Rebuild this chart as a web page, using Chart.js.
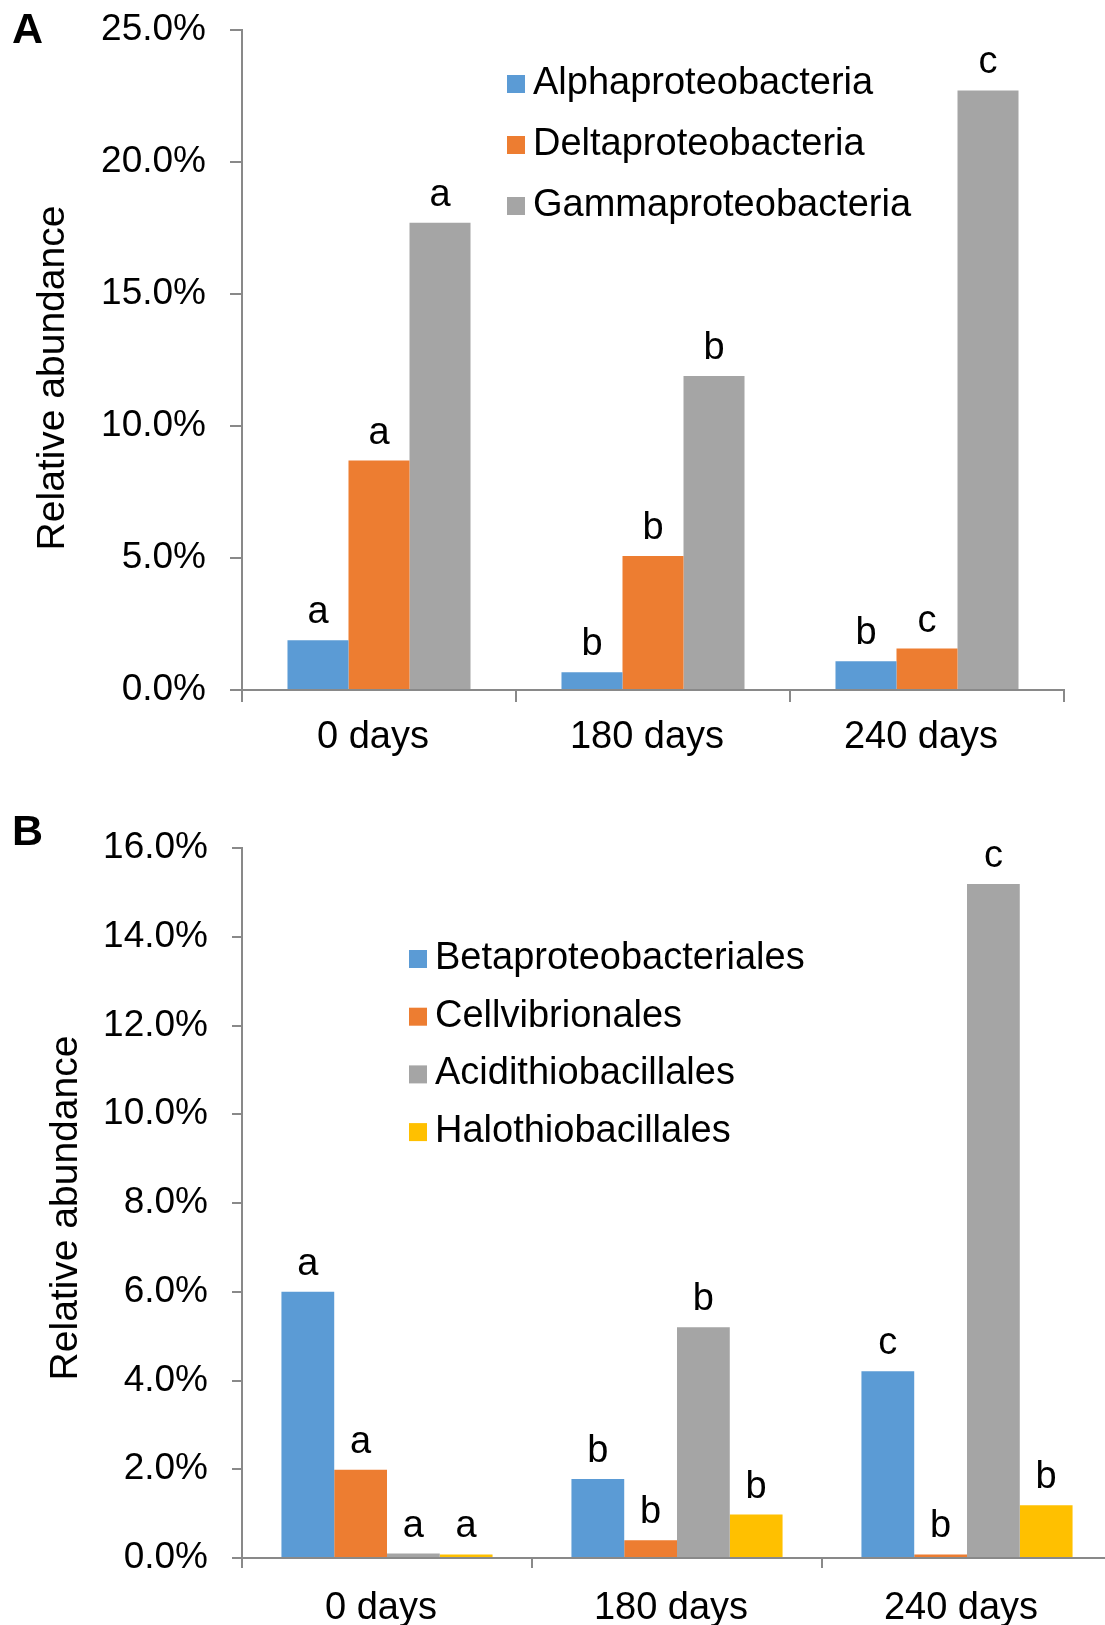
<!DOCTYPE html>
<html>
<head>
<meta charset="utf-8">
<script src="https://cdn.jsdelivr.net/npm/chart.js@4/dist/chart.umd.min.js"></script>
<style>
  html, body { margin: 0; padding: 0; background: #fff; }
  body { width: 1105px; height: 1625px; overflow: hidden; position: relative; }
  canvas { position: absolute; left: 0; }
  #chartA { top: 0; }
  #chartB { top: 790px; }
</style>
</head>
<body>
<canvas id="chartA" width="1105" height="790"></canvas>
<canvas id="chartB" width="1130" height="835"></canvas>
<script>
const days = ['0 days', '180 days', '240 days'];

// panel A - classes
const classNames = ['Alphaproteobacteria', 'Deltaproteobacteria', 'Gammaproteobacteria'];
const alphaValues = [1.88, 0.67, 1.09];
const deltaValues = [8.69, 5.08, 1.57];
const gammaValues = [17.70, 11.89, 22.71];
const alphaLetters = ['a', 'b', 'b'];
const deltaLetters = ['a', 'b', 'c'];
const gammaLetters = ['a', 'b', 'c'];
const yTicksA = { min: 0, max: 25, step: 5 };

// panel B - orders
const orderNames = ['Betaproteobacteriales', 'Cellvibrionales', 'Acidithiobacillales', 'Halothiobacillales'];
const betaValues = [6.00, 1.78, 4.21];
const cellValues = [1.99, 0.40, 0.08];
const acidValues = [0.10, 5.20, 15.19];
const haloValues = [0.08, 0.98, 1.19];
const betaLetters = ['a', 'b', 'c'];
const cellLetters = ['a', 'b', 'b'];
const acidLetters = ['a', 'b', 'c'];
const haloLetters = ['a', 'b', 'b'];
const yTicksB = { min: 0, max: 16, step: 2 };

const colors = ['#5B9BD5', '#ED7D31', '#A5A5A5', '#FFC000'];
const FONT = '"Liberation Sans", Arial, sans-serif';
const axisColor = '#898989';

Chart.defaults.font.family = FONT;
Chart.defaults.color = '#000';

// letters above bars
function lettersPlugin(letterSets) {
  return {
    id: 'letters',
    afterDatasetsDraw(chart) {
      const ctx = chart.ctx;
      ctx.save();
      ctx.font = '38px ' + FONT;
      ctx.fillStyle = '#000';
      ctx.textAlign = 'center';
      ctx.textBaseline = 'alphabetic';
      letterSets.forEach((letters, i) => {
        chart.getDatasetMeta(i).data.forEach((bar, j) => {
          ctx.fillText(letters[j], bar.x, bar.y - 17);
        });
      });
      ctx.restore();
    }
  };
}

// legend + panel letter + y title
function extrasPlugin(cfg) {
  return {
    id: 'extras',
    afterDraw(chart) {
      const ctx = chart.ctx;
      ctx.save();
      ctx.textBaseline = 'alphabetic';

      ctx.font = 'bold 43px ' + FONT;
      ctx.fillStyle = '#000';
      ctx.textAlign = 'left';
      ctx.fillText(cfg.panel, 12, cfg.panelY);

      ctx.font = '38px ' + FONT;
      chart.data.datasets.forEach((ds, i) => {
        const base = cfg.legendY + i * cfg.legendGap;
        ctx.fillStyle = ds.backgroundColor;
        ctx.fillRect(cfg.legendX, base - 19, 18, 18);
        ctx.fillStyle = '#000';
        ctx.fillText(ds.label, cfg.legendX + 26, base);
      });

      ctx.font = '39px ' + FONT;
      ctx.translate(cfg.titleX, cfg.titleY);
      ctx.rotate(-Math.PI / 2);
      ctx.textAlign = 'center';
      ctx.fillText('Relative abundance', 0, 0);
      ctx.restore();
    }
  };
}

function makeScales(yt, tickLen, xHeight, labelPad) {
  return {
    x: {
      ticks: { font: { size: 38 }, color: '#000', padding: labelPad, labelOffset: -6, maxRotation: 0, autoSkip: false },
      grid: { drawOnChartArea: false, offset: true, tickLength: tickLen, color: axisColor, lineWidth: 2 },
      border: { color: axisColor, width: 2 },
      afterFit(scale) { scale.height = xHeight; }
    },
    y: {
      min: yt.min,
      max: yt.max,
      ticks: {
        stepSize: yt.step,
        font: { size: 37 },
        color: '#000',
        padding: 24,
        callback: v => v.toFixed(1) + '%'
      },
      grid: { drawOnChartArea: false, tickLength: tickLen, color: axisColor, lineWidth: 2 },
      border: { color: axisColor, width: 2 },
      afterFit(scale) {
        scale.width = 242;
        scale.paddingTop = 0;
        scale.paddingBottom = 0;
      }
    }
  };
}

function bars(label, data, color) {
  return { label: label, data: data, backgroundColor: color, borderWidth: 0 };
}

new Chart(document.getElementById('chartA').getContext('2d'), {
  type: 'bar',
  data: {
    labels: days,
    datasets: [
      bars(classNames[0], alphaValues, colors[0]),
      bars(classNames[1], deltaValues, colors[1]),
      bars(classNames[2], gammaValues, colors[2])
    ]
  },
  options: {
    responsive: false,
    animation: false,
    categoryPercentage: 0.668,
    barPercentage: 1.0,
    layout: { padding: { top: 30, right: 41, left: 0, bottom: 0 } },
    plugins: { legend: { display: false }, tooltip: { enabled: false } },
    scales: makeScales(yTicksA, 12, 100, 13)
  },
  plugins: [
    lettersPlugin([alphaLetters, deltaLetters, gammaLetters]),
    extrasPlugin({ panel: 'A', panelY: 43, legendX: 507, legendY: 94, legendGap: 61, titleX: 64, titleY: 378 })
  ]
});

new Chart(document.getElementById('chartB').getContext('2d'), {
  type: 'bar',
  data: {
    labels: days,
    datasets: [
      bars(orderNames[0], betaValues, colors[0]),
      bars(orderNames[1], cellValues, colors[1]),
      bars(orderNames[2], acidValues, colors[2]),
      bars(orderNames[3], haloValues, colors[3])
    ]
  },
  options: {
    responsive: false,
    animation: false,
    categoryPercentage: 0.728,
    barPercentage: 1.0,
    layout: { padding: { top: 58, right: 18, left: 0, bottom: 0 } },
    plugins: { legend: { display: false }, tooltip: { enabled: false } },
    scales: makeScales(yTicksB, 10, 67, 18)
  },
  plugins: [
    lettersPlugin([betaLetters, cellLetters, acidLetters, haloLetters]),
    extrasPlugin({ panel: 'B', panelY: 55, legendX: 409, legendY: 179, legendGap: 57.7, titleX: 77, titleY: 418 })
  ]
});
</script>
</body>
</html>
